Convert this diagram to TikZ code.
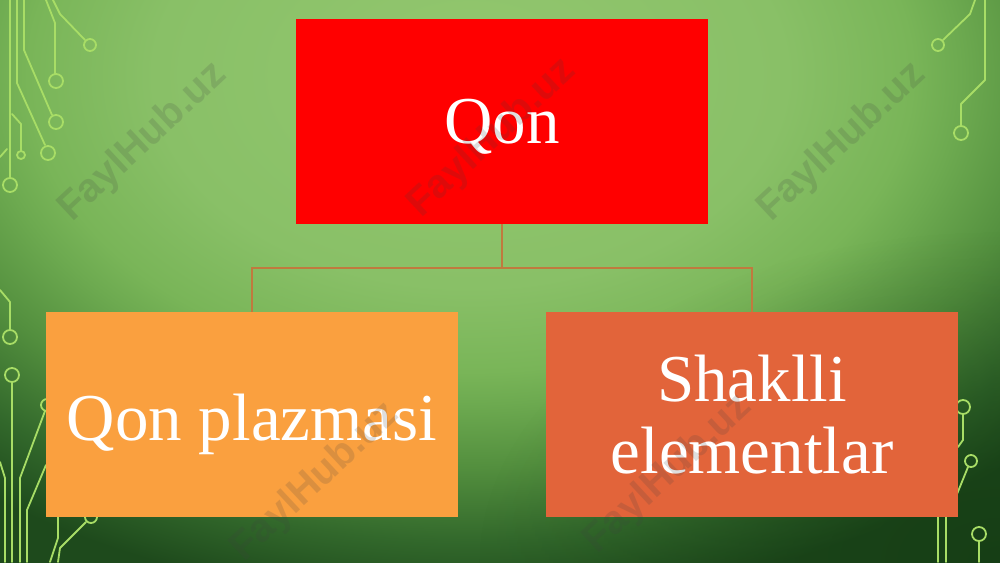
\documentclass[tikz,border=0pt]{standalone}
\usepackage{fontspec}
\setmainfont{Liberation Serif}
\newfontfamily\wmfont{Liberation Sans}
\usetikzlibrary{fadings}
\definecolor{cA}{HTML}{93C76F}
\definecolor{cB}{HTML}{89C067}
\definecolor{cC}{HTML}{79B558}
\definecolor{cD}{HTML}{6DAA50}
\definecolor{cE}{HTML}{538F3E}
\definecolor{cF}{HTML}{32682B}
\definecolor{cG}{HTML}{1E4A1C}
\definecolor{bgdark}{HTML}{0F330F}
\definecolor{qred}{HTML}{FF0000}
\definecolor{qorange}{HTML}{FAA03F}
\definecolor{qrust}{HTML}{E2643A}
\definecolor{connc}{HTML}{C07A3E}
\definecolor{circ}{HTML}{A8DD66}
\pgfdeclareradialshading{bgshade}{\pgfpointorigin}{color(0bp)=(cA); color(10bp)=(cB); color(14bp)=(cC); color(15.5bp)=(cD); color(18.5bp)=(cE); color(22bp)=(cF); color(25bp)=(cG); color(50bp)=(cG)}
\pgfdeclareradialshading{cornershade}{\pgfpointorigin}{color(0bp)=(pgftransparent!0); color(25bp)=(pgftransparent!100); color(50bp)=(pgftransparent!100)}
\pgfdeclarefading{cornerfade}{\pgfuseshading{cornershade}}
\tikzset{
  trace/.style={draw=circ, line width=1.8pt, line cap=round, line join=round},
  pad/.style={draw=circ, line width=1.8pt},
  box/.style={rectangle, minimum width=412pt, minimum height=205pt, inner sep=0pt,
    text=white, font=\fontsize{67}{72}\selectfont, align=center},
  conn/.style={draw=connc, line width=1.2pt},
  wm/.style={font=\wmfont\bfseries\fontsize{40}{40}\selectfont, text=black!75, text opacity=0.17, rotate=43}
}
\begin{document}
\begin{tikzpicture}[x=1pt, y=-1pt]
\useasboundingbox (0,0) rectangle (1000,562);
% background
\begin{scope}
\clip (-5,-5) rectangle (1005,567);
\fill[cG] (-5,-5) rectangle (1005,567);
\shade[shading=bgshade] (470,75) ellipse [x radius=790, y radius=530];
\fill[bgdark, opacity=0.5, path fading=cornerfade] (1000,562) ellipse [x radius=520, y radius=330];
\end{scope}
% circuit traces, top left
\draw[trace] (10,0) -- (10,178);
\draw[pad] (10,185) circle[radius=7];
\draw[trace] (17,0) -- (17,83) -- (45,145);
\draw[pad] (48,153) circle[radius=7];
\draw[trace] (24,0) -- (24,50) -- (52,115);
\draw[pad] (56,122) circle[radius=7];
\draw[trace] (46,0) -- (55,23) -- (55,74);
\draw[pad] (56,81) circle[radius=7];
\draw[trace] (53,0) -- (60,14) -- (85,40);
\draw[pad] (90,45) circle[radius=6];
\draw[trace] (12,114) -- (21,124) -- (21,151);
\draw[pad] (21,155) circle[radius=4];
\draw[trace] (0,157) -- (7,149);
% top right
\draw[trace] (985,0) -- (985,80) -- (961,104) -- (961,126);
\draw[pad] (961,133) circle[radius=7];
\draw[trace] (975,0) -- (970,14) -- (943,40);
\draw[pad] (938,45) circle[radius=6];
% bottom left
\draw[trace] (0,290) -- (10,302) -- (10,330);
\draw[pad] (10,337) circle[radius=7];
\draw[pad] (12,375) circle[radius=7];
\draw[trace] (12,382) -- (12,562);
\draw[pad] (47,405) circle[radius=6];
\draw[trace] (45,411) -- (20,478) -- (20,562);
\draw[trace] (0,462) -- (5,478) -- (5,562);
\draw[trace] (46,465) -- (27,510) -- (27,562);
\draw[trace] (58,500) -- (58,538) -- (50,562);
\draw[pad] (91,517) circle[radius=6];
\draw[trace] (86,522) -- (60,548) -- (58,562);
% bottom right
\draw[pad] (963,407) circle[radius=7];
\draw[trace] (963,414) -- (963,440) -- (958,447);
\draw[pad] (971,461) circle[radius=6];
\draw[trace] (968,467) -- (957,494);
\draw[trace] (938,500) -- (938,562);
\draw[trace] (946,500) -- (946,562);
\draw[pad] (979,534) circle[radius=7];
\draw[trace] (979,541) -- (979,562);
% boxes
\node[box, fill=qred, text height=50pt, text depth=7pt] (qon) at (502,121.5) {Qon};
\node[box, fill=qorange, text height=55pt, text depth=4pt] (plazma) at (252,414.5) {Qon plazmasi};
\node[box, fill=qrust] (shaklli) at (752,414.5) {Shaklli\\elementlar};
% connectors
\coordinate (bus) at (502,268);
\draw[conn] (qon.south) -- (bus) -| (plazma.north);
\draw[conn] (bus) -| (shaklli.north);
% watermarks
\node[wm] (wm1) at (143,142) {FaylHub.uz};
\node[wm] (wm2) at (492,138) {FaylHub.uz};
\node[wm] (wm3) at (842,142) {FaylHub.uz};
\node[wm] (wm4) at (315,482) {FaylHub.uz};
\node[wm] (wm5) at (668,474) {FaylHub.uz};
\end{tikzpicture}
\end{document}
